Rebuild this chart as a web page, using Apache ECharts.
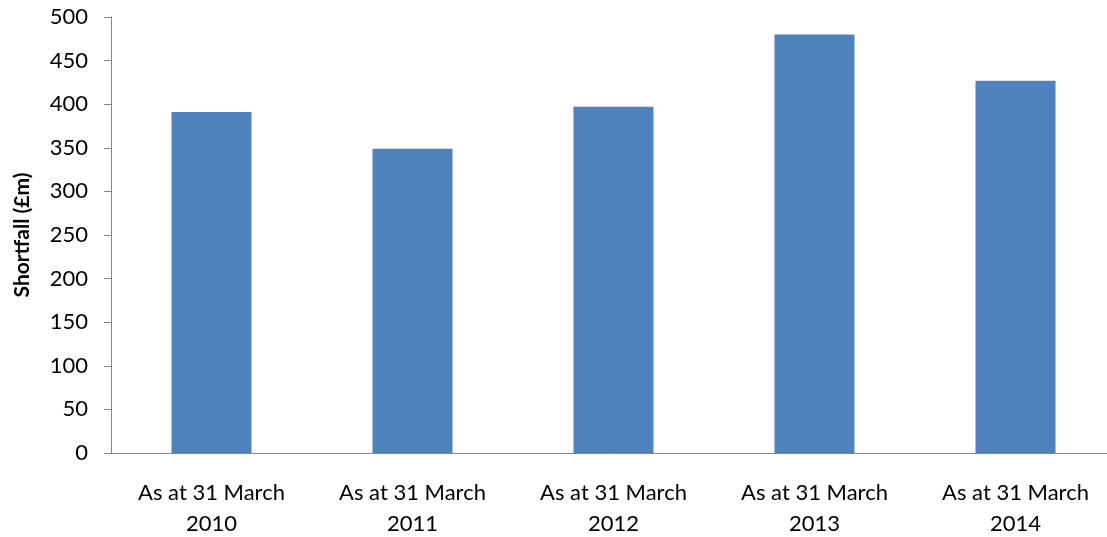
<!DOCTYPE html>
<html>
<head>
<meta charset="utf-8">
<script src="https://cdn.jsdelivr.net/npm/echarts@6/dist/echarts.min.js"></script>
<style>
	html, body { margin: 0; padding: 0; background: #fff; }
	#chart { width: 1107px; height: 537px; }
</style>
</head>
<body>
<div id="chart"></div>
<script>
var categories = [ 'As at 31 March\n2010', 'As at 31 March\n2011',
		'As at 31 March\n2012', 'As at 31 March\n2013',
		'As at 31 March\n2014' ];
var shortfall = [ 391, 349, 397, 480, 427 ];

var myChart = echarts.init(document.getElementById('chart'));

var axisColor = '#868686';

myChart.setOption({
	animation : false,
	textStyle : {
		fontFamily : 'Lato'
	},
	grid : {
		left : 111,
		right : -9,
		top : 17,
		bottom : 84,
		containLabel : false,
		outerBoundsMode : 'none'
	},
	xAxis : {
		type : 'category',
		data : categories,
		axisLine : {
			lineStyle : { color : axisColor, width : 1 }
		},
		axisTick : {
			length : 8,
			lineStyle : { color : axisColor }
		},
		axisLabel : {
			color : '#000',
			fontSize : 22,
			lineHeight : 31,
			margin : 24,
			interval : 0
		}
	},
	yAxis : {
		type : 'value',
		min : 0,
		max : 500,
		interval : 50,
		name : 'Shortfall (£m)',
		nameLocation : 'middle',
		nameGap : 78,
		nameTextStyle : {
			color : '#000',
			fontSize : 21,
			fontWeight : 'bold'
		},
		axisLine : {
			show : true,
			lineStyle : { color : axisColor, width : 1 }
		},
		axisTick : {
			show : true,
			length : 7,
			lineStyle : { color : axisColor }
		},
		axisLabel : {
			color : '#000',
			fontSize : 22,
			margin : 23
		},
		splitLine : { show : false }
	},
	series : [ {
		type : 'bar',
		data : shortfall,
		barWidth : 80,
		itemStyle : { color : '#4F81BD' }
	} ]
});
</script>
</body>
</html>
